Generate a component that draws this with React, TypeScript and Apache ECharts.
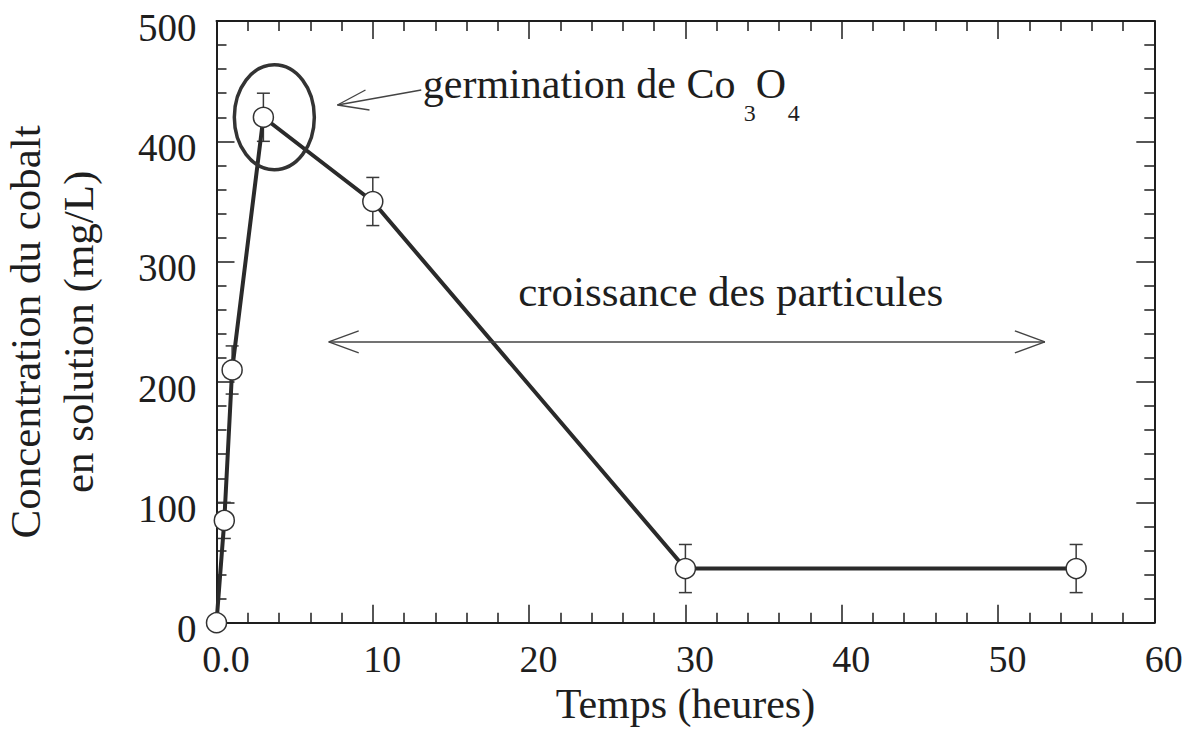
import React, { useEffect, useRef } from 'react';
import * as echarts from 'echarts';

// Data
const timeHours = [0, 0.5, 1, 3, 10, 30, 55];
const cobaltConc = [0, 85, 210, 420, 350, 45, 45];
const concError = [0, 15, 20, 20, 20, 20, 20];

const xMin = 0;
const xMax = 60;
const xInterval = 10;
const yMin = 0;
const yMax = 500;
const yInterval = 100;

const xTitle = 'Temps (heures)';
const yTitle = 'Concentration du cobalt\nen solution (mg/L)';
const annoGermination = 'germination de Co';
const annoGrowth = 'croissance des particules';

const FONT = '"Liberation Serif", "Times New Roman", serif';
const INK = '#1e1e1e';

export default function App() {
  const ref = useRef<HTMLDivElement>(null);

  useEffect(() => {
    if (!ref.current) return;
    const chart = echarts.init(ref.current, undefined, { renderer: 'svg' });

    const axisLine = { show: true, onZero: false, lineStyle: { color: INK, width: 2 } };
    const axisTick = { show: true, inside: true, length: 18, lineStyle: { color: INK, width: 1.5 } };
    const minorTick = { show: true, splitNumber: 5, length: 10, lineStyle: { color: INK, width: 1.5 } };

    const option: any = {
      animation: false,
      backgroundColor: '#ffffff',
      grid: { left: 216.5, right: 41.7, top: 21, bottom: 113.3, containLabel: false, outerBoundsMode: 'none' },
      xAxis: [
        {
          type: 'value', min: xMin, max: xMax, interval: xInterval, position: 'bottom',
          axisLine, axisTick, minorTick, splitLine: { show: false },
          axisLabel: {
            margin: 17,
            formatter: (v: number) => `{a|${v === 0 ? '0.0' : v}}`,
            rich: { a: { fontFamily: FONT, fontSize: 38, color: INK, padding: [0, 0, 0, 19] } },
          },
          name: xTitle, nameLocation: 'middle', nameGap: 50,
          nameTextStyle: { fontFamily: FONT, fontSize: 42, color: INK },
        },
        {
          type: 'value', min: xMin, max: xMax, interval: xInterval, position: 'top',
          axisLine, axisTick, minorTick, splitLine: { show: false }, axisLabel: { show: false },
        },
      ],
      yAxis: [
        {
          type: 'value', min: yMin, max: yMax, interval: yInterval, position: 'left',
          axisLine, axisTick, minorTick, splitLine: { show: false },
          axisLabel: {
            margin: 20,
            formatter: (v: number) => `{a|${v}}`,
            rich: { a: { fontFamily: FONT, fontSize: 39, color: INK, padding: [12, 0, 0, 0] } },
          },
          name: yTitle, nameLocation: 'middle', nameGap: 112, nameRotate: 90,
          nameTextStyle: { fontFamily: FONT, fontSize: 43, color: INK, lineHeight: 53, align: 'center', padding: [0, 20, 0, 0] },
        },
        {
          type: 'value', min: yMin, max: yMax, interval: yInterval, position: 'right',
          axisLine, axisTick, minorTick, splitLine: { show: false }, axisLabel: { show: false },
        },
      ],
      series: [
        {
          type: 'custom',
          name: 'erreur',
          data: timeHours.map((t, i) => [t, cobaltConc[i] - concError[i], cobaltConc[i] + concError[i]]),
          renderItem: (params: any, api: any) => {
            const x = api.value(0);
            const lo = api.value(1);
            const hi = api.value(2);
            if (hi === lo) return null;
            const pLo = api.coord([x, lo]);
            const pHi = api.coord([x, hi]);
            const hw = 6.5;
            const st = { stroke: '#3a3a3a', lineWidth: 1.5 };
            return {
              type: 'group',
              children: [
                { type: 'line', shape: { x1: pLo[0], y1: pLo[1], x2: pHi[0], y2: pHi[1] }, style: st },
                { type: 'line', shape: { x1: pLo[0] - hw, y1: pLo[1], x2: pLo[0] + hw, y2: pLo[1] }, style: st },
                { type: 'line', shape: { x1: pHi[0] - hw, y1: pHi[1], x2: pHi[0] + hw, y2: pHi[1] }, style: st },
              ],
            };
          },
          z: 2,
          clip: false,
        },
        {
          type: 'line',
          name: 'Co',
          data: timeHours.map((t, i) => [t, cobaltConc[i]]),
          symbol: 'circle',
          symbolSize: 20,
          clip: false,
          lineStyle: { color: '#2a2a2a', width: 4 },
          itemStyle: { color: '#ffffff', borderColor: '#333', borderWidth: 1.5 },
          z: 3,
        },
      ],
    };
    chart.setOption(option);

    const px = (x: number, y: number) => chart.convertToPixel({ xAxisIndex: 0, yAxisIndex: 0 }, [x, y]) as number[];

    const ell = px(3.7, 420);
    const tip = px(7.74, 430.2);
    const tail = px(13.1, 442.7);
    const germ = px(13.2, 448);
    const grow = px(19.3, 275.5);
    const aL = px(7.18, 233.3);
    const aR = px(53.0, 233.3);

    const thin = { stroke: '#444', lineWidth: 1.4 };
    const big = 42;

    chart.setOption({
      graphic: [
        {
          type: 'ellipse', shape: { cx: ell[0], cy: ell[1], rx: 40, ry: 52.5 },
          style: { fill: 'none', stroke: '#333', lineWidth: 3.5 }, z: 10,
        },
        { type: 'line', shape: { x1: tip[0], y1: tip[1], x2: tail[0], y2: tail[1] }, style: thin, z: 10 },
        { type: 'line', shape: { x1: tip[0], y1: tip[1], x2: tip[0] + 28, y2: tip[1] - 15 }, style: thin, z: 10 },
        { type: 'line', shape: { x1: tip[0], y1: tip[1], x2: tip[0] + 32, y2: tip[1] + 5 }, style: thin, z: 10 },
        {
          type: 'text', x: germ[0], y: germ[1], z: 10,
          style: { text: annoGermination, font: `${big}px ${FONT}`, fill: INK, verticalAlign: 'middle', align: 'left' },
        },
        {
          type: 'text', x: germ[0] + 321, y: germ[1] + 29, z: 10,
          style: { text: '3', font: `24px ${FONT}`, fill: INK, verticalAlign: 'middle', align: 'left' },
        },
        {
          type: 'text', x: germ[0] + 333, y: germ[1], z: 10,
          style: { text: 'O', font: `${big}px ${FONT}`, fill: INK, verticalAlign: 'middle', align: 'left' },
        },
        {
          type: 'text', x: germ[0] + 365, y: germ[1] + 29, z: 10,
          style: { text: '4', font: `24px ${FONT}`, fill: INK, verticalAlign: 'middle', align: 'left' },
        },
        {
          type: 'text', x: grow[0], y: grow[1], z: 10,
          style: { text: annoGrowth, font: `43px ${FONT}`, fill: INK, verticalAlign: 'middle', align: 'left' },
        },
        { type: 'line', shape: { x1: aL[0], y1: aL[1], x2: aR[0], y2: aR[1] }, style: thin, z: 10 },
        { type: 'line', shape: { x1: aL[0], y1: aL[1], x2: aL[0] + 30, y2: aL[1] - 11 }, style: thin, z: 10 },
        { type: 'line', shape: { x1: aL[0], y1: aL[1], x2: aL[0] + 30, y2: aL[1] + 11 }, style: thin, z: 10 },
        { type: 'line', shape: { x1: aR[0], y1: aR[1], x2: aR[0] - 30, y2: aR[1] - 11 }, style: thin, z: 10 },
        { type: 'line', shape: { x1: aR[0], y1: aR[1], x2: aR[0] - 30, y2: aR[1] + 11 }, style: thin, z: 10 },
      ],
    });

    return () => chart.dispose();
  }, []);

  return (
    <div
      ref={ref}
      style={{ position: 'fixed', left: 0, top: 0, width: 1196, height: 736, background: '#ffffff' }}
    />
  );
}
